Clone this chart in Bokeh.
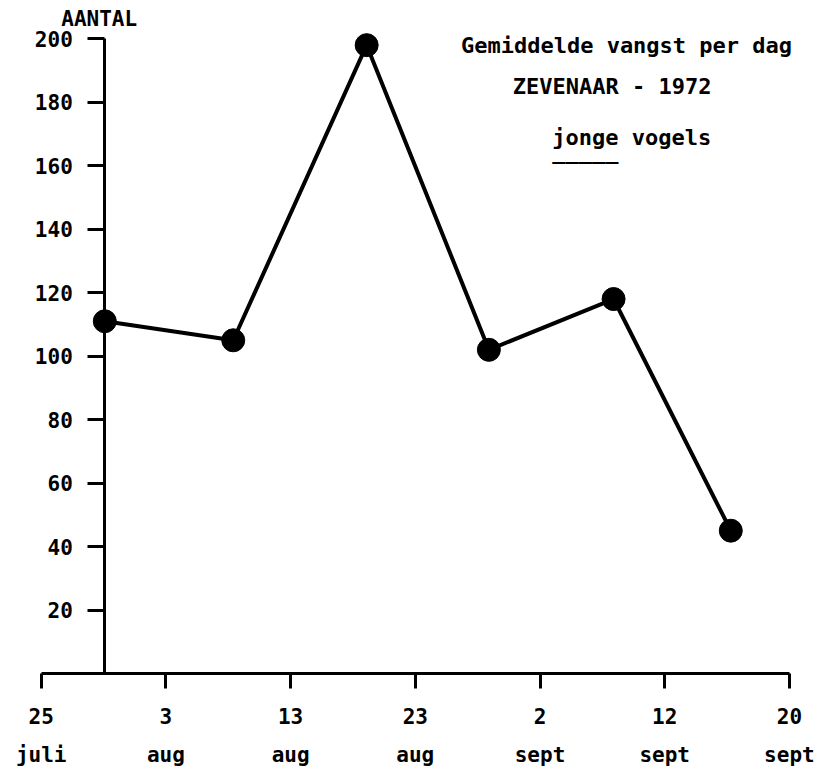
from bokeh.plotting import figure
from bokeh.models import LinearAxis, FixedTicker, Label, Range1d
from bokeh.embed import file_html
from bokeh.resources import INLINE

# ---- data ----
period_pos = [0.51, 1.54, 2.61, 3.59, 4.59, 5.53]   # mid-period positions (tick units)
avg_catch = [111, 105, 198, 102, 118, 45]           # gemiddelde vangst per dag
date_ticks = [0, 1, 2, 3, 4, 5, 6]
day_labels = ["25", "3", "13", "23", "2", "12", "20"]
month_labels = ["juli", "aug", "aug", "aug", "sept", "sept", "sept"]
y_ticks = [20, 40, 60, 80, 100, 120, 140, 160, 180, 200]
title_lines = ["Gemiddelde vangst per dag", "ZEVENAAR - 1972", "jonge vogels"]
underline_text = "_____"
y_title = "AANTAL"

# ---- layout ----
FONT = "DejaVu Sans Mono"
W, H = 816, 772
PX_X = 124.7      # px per tick unit
X0 = 40.7         # canvas px of first tick
PX_Y = 3.1735     # px per count unit
FH = 673          # frame height (x axis at canvas y = 673)
x_start = -X0 / PX_X
x_end = x_start + W / PX_X
y_end = FH / PX_Y


def dx(px):
    return (px - X0) / PX_X


def dy(py):
    return (FH - py) / PX_Y


p = figure(width=W, height=H,
           x_range=Range1d(x_start, x_end), y_range=Range1d(0, y_end),
           output_backend="svg", toolbar_location=None,
           x_axis_type=None, y_axis_type=None,
           min_border_left=0, min_border_right=0, min_border_top=0,
           min_border_bottom=H - FH)
p.outline_line_color = None
p.background_fill_color = "white"
p.border_fill_color = "white"

common = dict(major_label_text_font=FONT, major_label_text_font_style="bold",
              major_label_text_color="black", minor_tick_line_color=None)

xaxis = LinearAxis(ticker=FixedTicker(ticks=date_ticks), bounds=(date_ticks[0], date_ticks[-1]),
                   major_label_overrides={t: l for t, l in zip(date_ticks, day_labels)},
                   axis_line_width=3, axis_line_color="black",
                   major_tick_line_width=3, major_tick_line_color="black",
                   major_tick_out=15, major_tick_in=0, major_label_standoff=19,
                   major_label_text_font_size="21px", **common)
p.add_layout(xaxis, "below")

maxis = LinearAxis(ticker=FixedTicker(ticks=date_ticks),
                   major_label_overrides={t: l for t, l in zip(date_ticks, month_labels)},
                   axis_line_color=None, major_tick_line_color=None,
                   major_tick_out=0, major_tick_in=0, major_label_standoff=16,
                   major_label_text_font_size="21px", **common)
p.add_layout(maxis, "below")

yaxis = LinearAxis(ticker=FixedTicker(ticks=y_ticks), bounds=(0, y_ticks[-1]),
                   fixed_location=period_pos[0],
                   axis_line_width=3, axis_line_color="black",
                   major_tick_line_width=3, major_tick_line_color="black",
                   major_tick_out=17, major_tick_in=0, major_label_standoff=15,
                   major_label_text_font_size="21px", **common)
p.add_layout(yaxis, "left")

p.line(period_pos, avg_catch, line_width=4, line_color="black")
p.scatter(period_pos, avg_catch, size=23, fill_color="black", line_color="black")

lbl = dict(text_font=FONT, text_font_style="bold", text_color="black")
p.add_layout(Label(x=dx(98.7), y=dy(18), text=y_title, text_align="center",
                   text_baseline="alphabetic", text_font_size="21px", **lbl))
p.add_layout(Label(x=dx(626), y=dy(44.7), text=title_lines[0], text_align="center",
                   text_baseline="alphabetic", text_font_size="22px", **lbl))
p.add_layout(Label(x=dx(611.7), y=dy(86.3), text=title_lines[1], text_align="center",
                   text_baseline="alphabetic", text_font_size="22px", **lbl))
p.add_layout(Label(x=dx(551.7), y=dy(137), text=title_lines[2], text_align="left",
                   text_baseline="alphabetic", text_font_size="22px", **lbl))
p.add_layout(Label(x=dx(551.7), y=dy(151), text=underline_text, text_align="left",
                   text_baseline="alphabetic", text_font_size="22px", **lbl))

open("out.html", "w").write(file_html(p, INLINE))
